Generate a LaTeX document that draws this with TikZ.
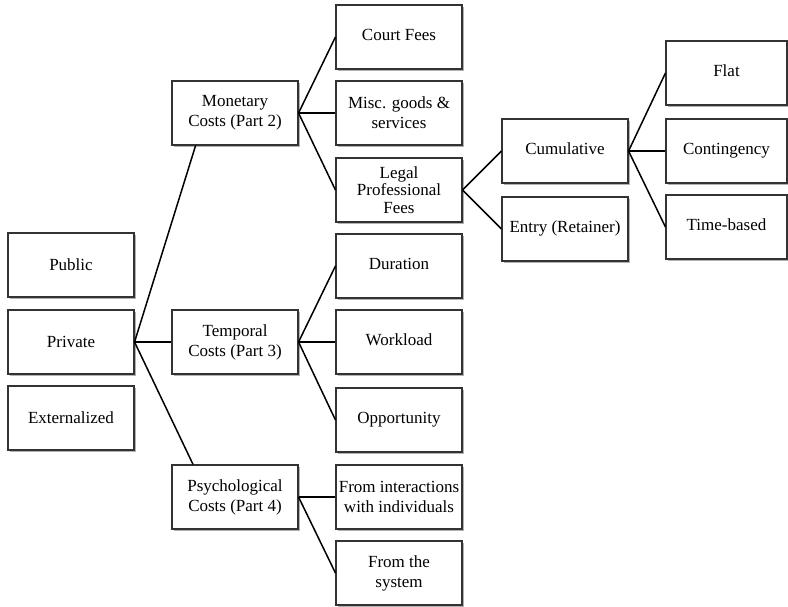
\documentclass[tikz,border=0pt]{standalone}
\usepackage{fontspec}
\setmainfont{Liberation Serif}
\usetikzlibrary{shadows,calc}
\tikzset{
  box/.style={draw=black!80, line width=1.1pt, fill=white, minimum width=126pt, minimum height=64pt,
    inner sep=1pt, align=center, font=\fontsize{17}{20}\selectfont,
    drop shadow={shadow xshift=2pt, shadow yshift=-2pt, fill=black, opacity=0.3}},
  nbox/.style={box, minimum width=121pt},
  link/.style={draw=black, line width=1.5pt},
  hlink/.style={draw=black, line width=2.4pt}
}
\newcommand{\up}[1]{\raisebox{5pt}{#1}}
\begin{document}
\begin{tikzpicture}[x=1pt,y=-1pt]
\useasboundingbox (0,0) rectangle (788,606);
% left column
\node[box] (pub) at (71,265) {Public};
\node[box] (pri) at (71,342) {Private};
\node[box] (ext) at (71,418) {Externalized};
% second column
\node[box] (mon) at (235,113) {Monetary\\Costs (Part 2)};
\node[box] (tem) at (235,342) {Temporal\\Costs (Part 3)};
\node[box] (psy) at (235,497) {Psychological\\Costs (Part 4)};
% third column
\node[box] (court) at (399,37) {\up{Court Fees}};
\node[box] (misc) at (399,113) {Misc. goods \&\\services};
\node[box] (legal) at (399,190) {Legal\\[-2.5pt]Professional\\[-2.5pt]Fees};
\node[box] (dur) at (399,266) {\up{Duration}};
\node[box] (work) at (399,342) {\up{Workload}};
\node[box] (opp) at (399,420) {\up{Opportunity}};
\node[box] (inter) at (399,497) {From interactions\\with individuals};
\node[box] (sys) at (399,573) {From the\\system};
% fourth column
\node[box] (cum) at (565,151) {\up{Cumulative}};
\node[box] (entry) at (565,229) {\up{Entry (Retainer)}};
% fifth column
\node[nbox] (flat) at (726.5,73) {\up{Flat}};
\node[nbox] (cont) at (726.5,151) {\up{Contingency}};
\node[nbox] (time) at (726.5,227) {\up{Time-based}};
% connectors
\coordinate (monfoot) at ($(mon.south west)!0.19!(mon.south east)$);
\coordinate (psyhead) at ($(psy.north west)!0.17!(psy.north east)$);
\draw[link] (pri.east) -- (monfoot);
\draw[hlink] (pri.east) -- (tem.west);
\draw[link] (pri.east) -- (psyhead);
\draw[link] (mon.east) -- (court.west);
\draw[hlink] (mon.east) -- (misc.west);
\draw[link] (mon.east) -- (legal.west);
\draw[link] (tem.east) -- (dur.west);
\draw[hlink] (tem.east) -- (work.west);
\draw[link] (tem.east) -- (opp.west);
\draw[hlink] (psy.east) -- (inter.west);
\draw[link] (psy.east) -- (sys.west);
\draw[link] (legal.east) -- (cum.west);
\draw[link] (legal.east) -- (entry.west);
\draw[link] (cum.east) -- (flat.west);
\draw[hlink] (cum.east) -- (cont.west);
\draw[link] (cum.east) -- (time.west);
\end{tikzpicture}
\end{document}
